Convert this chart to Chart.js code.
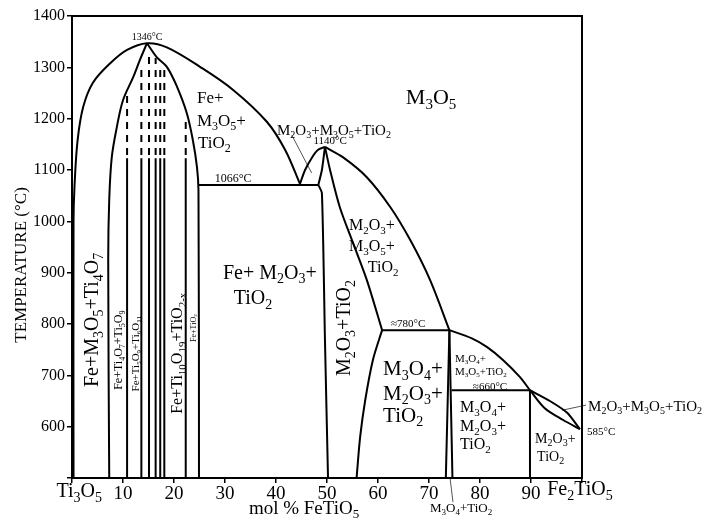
<!DOCTYPE html>
<html>
<head>
<meta charset="utf-8">
<script src="https://cdn.jsdelivr.net/npm/chart.js@4"></script>
<style>
  html, body { margin: 0; padding: 0; background: #fff; }
  canvas { display: block; }
</style>
</head>
<body>
<canvas id="myChart" width="705" height="519"></canvas>
<script>
// boundaries: [mol % FeTiO5, temperature °C]
const outerDome = [[0.3,500],[0.3,1000],[0.5,1070],[1.1,1158],[2.2,1223],[4.1,1270],[7.5,1308],[10.8,1334],[14.7,1347],[18.6,1339],[25.1,1301],[31.6,1256],[38.2,1194],[41.8,1139],[44.7,1073]];
const innerLeft = [[7.3,500],[7.1,925],[7.3,1042],[7.8,1125],[8.8,1184],[10,1236],[12,1281],[13.3,1314],[14.7,1347]];
const innerRight = [[14.7,1347],[16.6,1320],[18.6,1301],[20.6,1262],[22.5,1211],[23.7,1158],[24.5,1106],[24.8,1060],[24.9,500]];
const smallDome = [[44.7,1073],[45.7,1100],[47.1,1125],[48.2,1139],[49.6,1145]];
const m3o5Upper = [[49.6,1145],[53.1,1125],[57.8,1086],[62.4,1028],[66.3,964],[70.2,886],[74,788]];
const m3o5Lower = [[74,788],[78.4,772],[81.4,755],[84.5,730],[87.8,697],[89.8,671]];
const innerDiag = [[49.6,1145],[50.6,1100],[52.5,1028],[55.1,958],[57.8,886],[60.8,788]];
const lowerCurve = [[60.8,788],[59,730],[57.5,652],[56.5,580],[55.8,500]];
const line1066 = [[24.9,1071],[48.3,1071]];
const bandLeft = [[48.3,1071],[49.0,1055],[49.6,769],[50.2,500]];
const peakDrop = [[49.6,1145],[49.0,1100],[48.3,1071]];
const line780 = [[60.8,788],[74,788]];
const m3o4Left = [[74,788],[73.3,500]];
const m3o4Right = [[74,788],[74.6,500]];
const line660 = [[74.4,671],[89.8,671]];
const line90 = [[89.8,671],[89.8,500]];
const lensUpper = [[89.8,671],[93.7,650],[97.1,627],[99.6,595]];
const lensLower = [[89.8,671],[92.7,636],[96.3,613],[99.6,595]];

// Magneli-type phase lines: solid below solidTop, dashed above
const phaseX = [10.8, 13.6, 15.1, 16.4, 17.3, 18.1, 22.3];
const dashTop = [1255, 1305, 1330, 1318, 1306, 1295, 1205];
const solidTop = 1123;

// leader lines from labels
const leaderUpper = [[43.1,1168],[47.0,1094]];
const leaderRight = [[96.1,632],[100.8,642]];
const leaderBottom = [[74.1,502],[74.7,453]];

const xTicks = [10, 20, 30, 40, 50, 60, 70, 80, 90];
const yTicks = [600, 700, 800, 900, 1000, 1100, 1200, 1300, 1400];

const SERIF = '"Liberation Serif", "DejaVu Serif", serif';

const pts = arr => arr.map(p => ({ x: p[0], y: p[1] }));

function curve(arr, tension) {
  return { data: pts(arr), showLine: true, pointRadius: 0, borderColor: '#000', borderWidth: 2, tension: tension || 0 };
}

const datasets = [
  curve(outerDome, 0.35),
  curve(innerLeft, 0.35),
  curve(innerRight, 0.35),
  curve(smallDome, 0.3),
  curve(m3o5Upper, 0.3),
  curve(m3o5Lower, 0.3),
  curve(innerDiag, 0.3),
  curve(lowerCurve, 0.3),
  curve(line1066),
  curve(bandLeft, 0.2),
  curve(peakDrop, 0.2),
  curve(line780),
  curve(m3o4Left),
  curve(m3o4Right),
  curve(line660),
  curve(line90),
  curve(lensUpper, 0.2),
  curve(lensLower, 0.3),
];

phaseX.forEach((x, i) => {
  datasets.push(curve([[x, 500], [x, solidTop]]));
  const d = curve([[x, solidTop + 6], [x, dashTop[i]]]);
  d.borderDash = [7, 6];
  datasets.push(d);
});

[leaderUpper, leaderRight, leaderBottom].forEach(l => {
  const d = curve(l);
  d.borderWidth = 1;
  d.borderColor = '#555';
  d.clip = false;
  datasets.push(d);
});

// text placed in data units; "_x" or "_{..}" marks a subscript
const notes = [
  { t: '1346°C', x: 14.7, y: 1359, size: 10 },
  { t: 'Fe+', x: 24.5, y: 1242, size: 17, align: 'left' },
  { t: 'M_3O_5+', x: 24.5, y: 1197, size: 17, align: 'left' },
  { t: 'TiO_2', x: 24.7, y: 1153, size: 17, align: 'left' },
  { t: 'M_3O_5', x: 70.4, y: 1242, size: 22 },
  { t: 'M_2O_3+M_3O_5+TiO_2', x: 40.2, y: 1178, size: 15, align: 'left' },
  { t: '1140°C', x: 50.6, y: 1157, size: 11 },
  { t: '1066°C', x: 31.6, y: 1084, size: 12 },
  { t: 'M_2O_3+', x: 58.8, y: 993, size: 16 },
  { t: 'M_3O_5+', x: 58.8, y: 952, size: 16 },
  { t: 'TiO_2', x: 61, y: 911, size: 16 },
  { t: 'Fe+ M_2O_3+', x: 38.8, y: 901, size: 20 },
  { t: 'TiO_2', x: 35.5, y: 851, size: 20 },
  { t: 'M_2O_3+TiO_2', x: 53.3, y: 792, size: 20, rot: true },
  { t: '≈780°C', x: 65.9, y: 802, size: 11 },
  { t: 'M_3O_4+', x: 61, y: 714, size: 21, align: 'left' },
  { t: 'M_2O_3+', x: 61, y: 666, size: 21, align: 'left' },
  { t: 'TiO_2', x: 61, y: 623, size: 21, align: 'left' },
  { t: 'M_3O_4+', x: 75.1, y: 734, size: 11, align: 'left' },
  { t: 'M_3O_5+TiO_2', x: 75.1, y: 708, size: 11, align: 'left' },
  { t: '≈660°C', x: 78.6, y: 679, size: 11, align: 'left' },
  { t: 'M_3O_4+', x: 76.1, y: 638, size: 16, align: 'left' },
  { t: 'M_2O_3+', x: 76.1, y: 601, size: 16, align: 'left' },
  { t: 'TiO_2', x: 76.1, y: 566, size: 16, align: 'left' },
  { t: 'M_2O_3+', x: 90.8, y: 578, size: 14, align: 'left' },
  { t: 'TiO_2', x: 91.2, y: 543, size: 14, align: 'left' },
  { t: '585°C', x: 101, y: 590, size: 11, align: 'left' },
  { t: 'M_2O_3+M_3O_5+TiO_2', x: 101.2, y: 640, size: 15, align: 'left' },
  { t: 'M_3O_4+TiO_2', x: 76.3, y: 442, size: 13 },
  { t: 'Ti_3O_5', x: 1.4, y: 475, size: 20 },
  { t: 'Fe_2TiO_5', x: 99.6, y: 479, size: 20 },
  { t: 'mol % FeTiO_5', x: 45.5, y: 442, size: 19 },
  { t: 'TEMPERATURE (°C)', x: -10.2, y: 915, size: 17, rot: true },
  { t: 'Fe+M_3O_5+Ti_4O_7', x: 3.9, y: 808, size: 20, rot: true },
  { t: 'Fe+Ti_4O_7+Ti_5O_9', x: 9.0, y: 749, size: 12, rot: true },
  { t: 'Fe+Ti_5O_9+Ti_6O_{11}', x: 12.4, y: 742, size: 11, rot: true },
  { t: 'Fe+Ti_{10}O_{19}+TiO_{2-x}', x: 20.6, y: 743, size: 16, rot: true },
  { t: 'Fe+TiO_2', x: 23.7, y: 792, size: 8, rot: true },
];

function parseRich(str) {
  const parts = [];
  for (let i = 0; i < str.length; i++) {
    let c = str[i], sub = false;
    if (c === '_') {
      sub = true;
      if (str[i + 1] === '{') {
        const j = str.indexOf('}', i);
        c = str.slice(i + 2, j);
        i = j;
      } else {
        c = str[i + 1];
        i++;
      }
    }
    const last = parts[parts.length - 1];
    if (last && !last.sub && !sub) last.t += c;
    else parts.push({ t: c, sub: sub });
  }
  return parts;
}

function drawRich(ctx, n, px, py) {
  const parts = parseRich(n.t);
  const big = n.size + 'px ' + SERIF;
  const small = Math.round(n.size * 0.68) + 'px ' + SERIF;
  let w = 0;
  parts.forEach(p => {
    ctx.font = p.sub ? small : big;
    p.w = ctx.measureText(p.t).width;
    w += p.w;
  });
  ctx.save();
  ctx.translate(px, py);
  if (n.rot) ctx.rotate(-Math.PI / 2);
  ctx.textAlign = 'left';
  ctx.textBaseline = 'alphabetic';
  let cx = n.align === 'left' ? 0 : -w / 2;
  const base = n.size * 0.33;
  parts.forEach(p => {
    ctx.font = p.sub ? small : big;
    ctx.fillText(p.t, cx, p.sub ? base + n.size * 0.22 : base);
    cx += p.w;
  });
  ctx.restore();
}

const overlay = {
  id: 'overlay',
  afterDraw(chart) {
    const { ctx, chartArea: a, scales } = chart;
    ctx.save();
    ctx.strokeStyle = '#000';
    ctx.lineWidth = 2;
    ctx.strokeRect(a.left, a.top, a.right - a.left, a.bottom - a.top);
    ctx.fillStyle = '#000';
    notes.forEach(n => drawRich(ctx, n, scales.x.getPixelForValue(n.x), scales.y.getPixelForValue(n.y)));
    ctx.restore();
  }
};

const axisGrid = { drawOnChartArea: false, drawTicks: true, tickLength: 5, color: '#000', lineWidth: 1.5 };

new Chart(document.getElementById('myChart'), {
  type: 'scatter',
  data: { datasets: datasets },
  options: {
    responsive: false,
    animation: false,
    devicePixelRatio: 1,
    layout: { padding: { left: 0, right: 123, top: 16, bottom: 0 } },
    plugins: { legend: { display: false }, tooltip: { enabled: false } },
    scales: {
      x: {
        type: 'linear', min: 0, max: 100,
        afterFit: s => { s.height = 41; },
        afterBuildTicks: s => { s.ticks = [0].concat(xTicks, [100]).map(v => ({ value: v })); },
        ticks: {
          callback: v => xTicks.includes(v) ? v : '',
          font: { family: SERIF, size: 19 }, color: '#000', padding: 0, maxRotation: 0, autoSkip: false
        },
        grid: axisGrid,
        border: { color: '#000', width: 2 }
      },
      y: {
        type: 'linear', min: 500, max: 1400,
        afterFit: s => { s.width = 72; },
        afterBuildTicks: s => { s.ticks = [500].concat(yTicks).map(v => ({ value: v })); },
        ticks: {
          callback: v => yTicks.includes(v) ? v : '',
          font: { family: SERIF, size: 16 }, color: '#000', padding: 2, autoSkip: false
        },
        grid: axisGrid,
        border: { color: '#000', width: 2 }
      }
    }
  },
  plugins: [overlay]
});
</script>
</body>
</html>
